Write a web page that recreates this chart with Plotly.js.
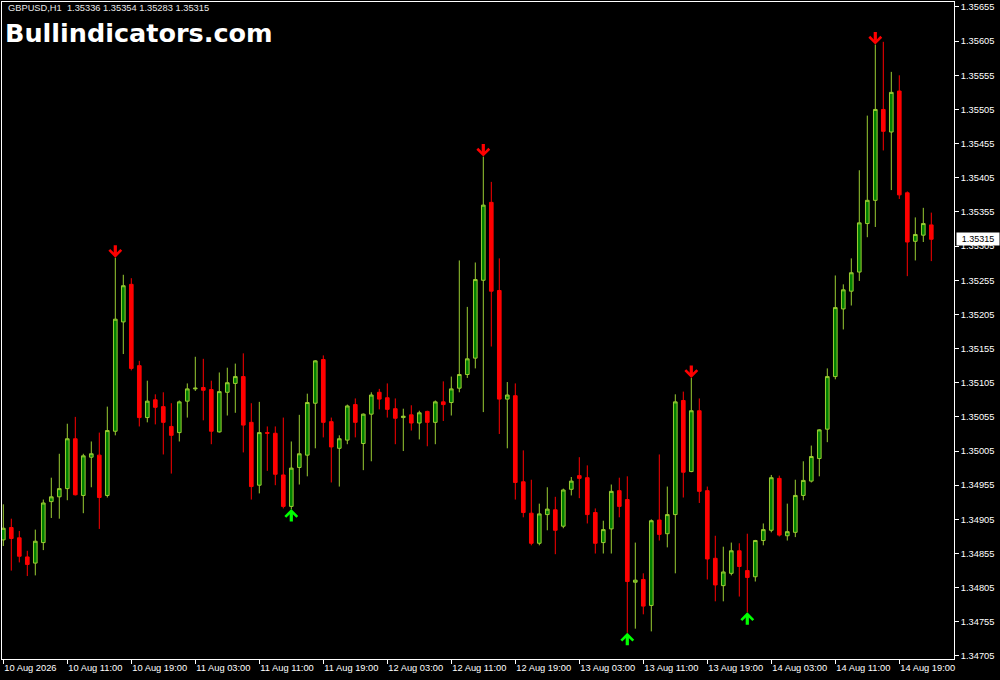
<!DOCTYPE html>
<html>
<head>
<meta charset="utf-8">
<script src="https://cdn.plot.ly/plotly-3.0.1.min.js"></script>
<style>
  html, body { margin: 0; padding: 0; background: #000000; }
  #chart { width: 1000px; height: 680px; }
</style>
</head>
<body>
<div id="chart"></div>
<script>
// ---- Data (GBPUSD, H1), bar index 0 = 10 Aug 2026 03:00 ----
const symbolName = "GBPUSD,H1";
const siteName = "Bullindicators.com";

const openPrices = [
1.34875, 1.34893, 1.34878, 1.34850, 1.34841, 1.34871, 1.34931, 1.34938, 1.34950, 1.35023,
1.34940, 1.34996, 1.34999, 1.34940, 1.35034, 1.35194, 1.35249, 1.35130, 1.35054, 1.35080,
1.35070, 1.35041, 1.35032, 1.35078, 1.35096, 1.35098, 1.35095, 1.35033, 1.35091, 1.35104,
1.35114, 1.35047, 1.34955, 1.35032, 1.35031, 1.34970, 1.34924, 1.34981, 1.34999, 1.35075,
1.35139, 1.35048, 1.35009, 1.35021, 1.35073, 1.35016, 1.35059, 1.35091, 1.35083, 1.35067,
1.35054, 1.35058, 1.35046, 1.35063, 1.35047, 1.35077, 1.35076, 1.35097, 1.35117, 1.35141,
1.35255, 1.35369, 1.35240, 1.35081, 1.35086, 1.34960, 1.34914, 1.34870, 1.34912, 1.34919,
1.34895, 1.34949, 1.34969, 1.34966, 1.34915, 1.34871, 1.34891, 1.34947, 1.34934, 1.34813,
1.34817, 1.34779, 1.34904, 1.34884, 1.34912, 1.35079, 1.34975, 1.35064, 1.34947, 1.34848,
1.34808, 1.34826, 1.34859, 1.34830, 1.34821, 1.34874, 1.34889, 1.34965, 1.34881, 1.34886,
1.34940, 1.34961, 1.34994, 1.35037, 1.35114, 1.35213, 1.35239, 1.35267, 1.35338, 1.35372,
1.35505, 1.35472, 1.35532, 1.35383, 1.35312, 1.35321, 1.35336
];

const highPrices = [
1.34927, 1.34906, 1.34888, 1.34859, 1.34890, 1.34934, 1.34966, 1.35001, 1.35045, 1.35055,
1.35001, 1.35019, 1.35032, 1.35070, 1.35288, 1.35263, 1.35258, 1.35137, 1.35108, 1.35088,
1.35091, 1.35075, 1.35079, 1.35104, 1.35143, 1.35140, 1.35108, 1.35120, 1.35127, 1.35133,
1.35148, 1.35075, 1.35077, 1.35041, 1.35041, 1.35054, 1.35019, 1.35058, 1.35089, 1.35138,
1.35145, 1.35054, 1.35028, 1.35073, 1.35082, 1.35060, 1.35091, 1.35096, 1.35104, 1.35082,
1.35067, 1.35072, 1.35064, 1.35064, 1.35079, 1.35107, 1.35114, 1.35284, 1.35216, 1.35281,
1.35436, 1.35399, 1.35287, 1.35106, 1.35104, 1.35006, 1.34963, 1.34928, 1.34952, 1.34938,
1.34950, 1.34967, 1.34996, 1.34984, 1.34921, 1.34903, 1.34956, 1.34966, 1.34968, 1.34871,
1.34826, 1.34905, 1.35000, 1.34953, 1.35088, 1.35092, 1.35112, 1.35082, 1.34953, 1.34881,
1.34865, 1.34871, 1.34870, 1.34884, 1.34875, 1.34899, 1.34970, 1.34969, 1.34928, 1.34963,
1.34990, 1.35013, 1.35037, 1.35126, 1.35262, 1.35249, 1.35287, 1.35416, 1.35496, 1.35600,
1.35604, 1.35560, 1.35555, 1.35385, 1.35347, 1.35361, 1.35354
];

const lowPrices = [
1.34866, 1.34830, 1.34842, 1.34822, 1.34823, 1.34860, 1.34907, 1.34906, 1.34933, 1.34940,
1.34914, 1.34952, 1.34891, 1.34937, 1.35028, 1.35147, 1.35123, 1.35041, 1.35047, 1.35044,
1.35000, 1.34972, 1.35019, 1.35054, 1.35093, 1.35050, 1.35015, 1.35032, 1.35057, 1.35061,
1.35003, 1.34934, 1.34943, 1.34976, 1.34955, 1.34921, 1.34920, 1.34956, 1.34968, 1.35009,
1.35025, 1.34959, 1.34953, 1.35015, 1.35025, 1.34977, 1.34990, 1.35066, 1.35054, 1.35015,
1.35005, 1.35035, 1.35022, 1.35012, 1.35015, 1.35049, 1.35057, 1.35091, 1.35112, 1.35126,
1.35062, 1.35158, 1.35030, 1.35009, 1.34934, 1.34908, 1.34867, 1.34867, 1.34889, 1.34854,
1.34892, 1.34940, 1.34936, 1.34899, 1.34855, 1.34855, 1.34855, 1.34908, 1.34739, 1.34745,
1.34766, 1.34741, 1.34874, 1.34864, 1.34826, 1.34937, 1.34974, 1.34929, 1.34817, 1.34785,
1.34785, 1.34823, 1.34792, 1.34769, 1.34814, 1.34867, 1.34886, 1.34880, 1.34874, 1.34879,
1.34933, 1.34959, 1.34968, 1.35018, 1.35110, 1.35183, 1.35218, 1.35254, 1.35318, 1.35333,
1.35445, 1.35387, 1.35374, 1.35261, 1.35284, 1.35311, 1.35283
];

const closePrices = [
1.34892, 1.34877, 1.34851, 1.34839, 1.34873, 1.34929, 1.34938, 1.34950, 1.35023, 1.34941,
1.34998, 1.35001, 1.34937, 1.35035, 1.35198, 1.35247, 1.35126, 1.35054, 1.35078, 1.35069,
1.35047, 1.35028, 1.35077, 1.35096, 1.35097, 1.35094, 1.35034, 1.35092, 1.35105, 1.35114,
1.35043, 1.34953, 1.35032, 1.35031, 1.34971, 1.34924, 1.34980, 1.35001, 1.35076, 1.35137,
1.35047, 1.35011, 1.35023, 1.35071, 1.35047, 1.35059, 1.35087, 1.35081, 1.35066, 1.35053,
1.35056, 1.35046, 1.35061, 1.35047, 1.35077, 1.35073, 1.35096, 1.35117, 1.35140, 1.35256,
1.35365, 1.35239, 1.35081, 1.35087, 1.34959, 1.34915, 1.34870, 1.34913, 1.34920, 1.34889,
1.34948, 1.34961, 1.34965, 1.34912, 1.34870, 1.34890, 1.34946, 1.34924, 1.34814, 1.34816,
1.34778, 1.34903, 1.34883, 1.34912, 1.35077, 1.34974, 1.35064, 1.34946, 1.34847, 1.34809,
1.34828, 1.34859, 1.34836, 1.34820, 1.34874, 1.34890, 1.34966, 1.34882, 1.34887, 1.34940,
1.34962, 1.34997, 1.35036, 1.35114, 1.35215, 1.35241, 1.35266, 1.35339, 1.35372, 1.35505,
1.35473, 1.35530, 1.35380, 1.35311, 1.35322, 1.35338, 1.35315
];

// signal arrows (bar indices)
const sellSignals = [14, 60, 86, 109];
const buySignals = [36, 78, 93];

// time axis labels, one every 8 bars
const timeLabels = [
"10 Aug 2026", "10 Aug 11:00", "10 Aug 19:00", "11 Aug 03:00", "11 Aug 11:00",
"11 Aug 19:00", "12 Aug 03:00", "12 Aug 11:00", "12 Aug 19:00", "13 Aug 03:00",
"13 Aug 11:00", "13 Aug 19:00", "14 Aug 03:00", "14 Aug 11:00", "14 Aug 19:00"
];
const barsPerLabel = 8;

// ---- Build chart ----
const barIndex = openPrices.map((_, i) => i);
const last = openPrices.length - 1;
const fmt = v => v.toFixed(5);

const candle = {
  type: 'candlestick',
  x: barIndex,
  open: openPrices, high: highPrices, low: lowPrices, close: closePrices,
  increasing: { line: { color: '#9ACD32', width: 1 }, fillcolor: '#008000' },
  decreasing: { line: { color: '#FF0000', width: 1 }, fillcolor: '#FF0000' },
  whiskerwidth: 0,
  hoverinfo: 'skip',
  showlegend: false
};

const annotations = [];
const arrowStyle = { showarrow: true, arrowhead: 4, arrowwidth: 3.2, arrowsize: 0.72, standoff: 0, ax: 0, text: '' };
sellSignals.forEach(i => annotations.push(Object.assign({
  x: i, y: highPrices[i], xref: 'x', yref: 'y', ay: -14, arrowcolor: '#FF0000'
}, arrowStyle)));
buySignals.forEach(i => annotations.push(Object.assign({
  x: i, y: lowPrices[i], xref: 'x', yref: 'y', ay: 14, arrowcolor: '#00FF00'
}, arrowStyle)));

annotations.push({
  xref: 'paper', yref: 'paper', x: 0, y: 1, xanchor: 'left', yanchor: 'top',
  xshift: 4, yshift: 1, showarrow: false,
  text: symbolName + '&nbsp;&nbsp;' + [openPrices[last], highPrices[last], lowPrices[last], closePrices[last]].map(fmt).join(' '),
  font: { family: 'Liberation Sans', size: 9.3, color: '#E8E8E8' }
});
annotations.push({
  xref: 'paper', yref: 'paper', x: 0, y: 0.9528, xanchor: 'left', yanchor: 'middle',
  xshift: 1, showarrow: false, text: '<b>' + siteName + '</b>',
  font: { family: 'DejaVu Sans', size: 25.5, color: '#FFFFFF' }
});
annotations.push({
  xref: 'paper', yref: 'y', x: 1, y: closePrices[last], xanchor: 'left', yanchor: 'middle',
  xshift: 2, showarrow: false, text: fmt(closePrices[last]),
  bgcolor: '#FFFFFF', borderpad: 1, width: 40,
  font: { family: 'Liberation Sans', size: 9, color: '#000000' }
});

const layout = {
  width: 1000, height: 680,
  paper_bgcolor: '#000000', plot_bgcolor: '#000000',
  margin: { l: 2, r: 46, t: 2, b: 21, pad: 0 },
  showlegend: false,
  boxgap: 0.35,
  xaxis: {
    range: [-0.1625, 118.8375],
    rangeslider: { visible: false },
    showgrid: false, zeroline: false,
    showline: true, mirror: true, linecolor: '#FFFFFF', linewidth: 1,
    ticks: 'outside', ticklen: 4, tickcolor: '#FFFFFF', tickwidth: 1,
    tickvals: timeLabels.map((_, i) => i * barsPerLabel),
    ticktext: timeLabels,
    ticklabelposition: 'outside right',
    tickfont: { family: 'Liberation Sans', size: 9.3, color: '#FFFFFF' },
    fixedrange: true
  },
  yaxis: {
    side: 'right',
    range: [1.347006, 1.356623],
    showgrid: false, zeroline: false,
    showline: true, mirror: true, linecolor: '#FFFFFF', linewidth: 1,
    ticks: 'outside', ticklen: 4, tickcolor: '#FFFFFF', tickwidth: 1,
    tick0: 1.34705, dtick: 0.0005, tickmode: 'linear',
    tickformat: '.5f',
    tickfont: { family: 'Liberation Sans', size: 9.3, color: '#FFFFFF' },
    fixedrange: true
  },
  annotations: annotations
};

Plotly.newPlot('chart', [candle], layout, { staticPlot: true, displayModeBar: false });
</script>
</body>
</html>
